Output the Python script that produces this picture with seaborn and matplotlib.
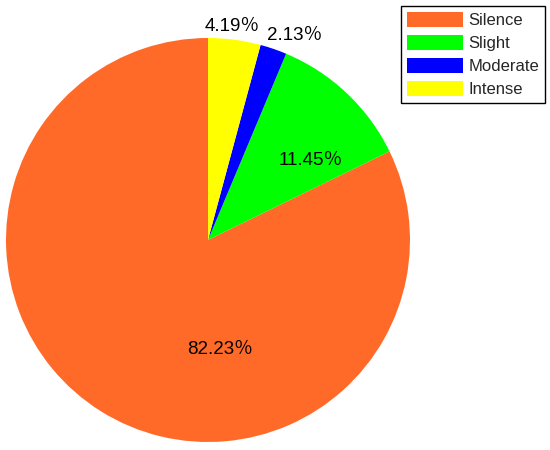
import numpy as np
import seaborn as sns
from matplotlib import pyplot as plt

# data
labels = ['Silence', 'Slight', 'Moderate', 'Intense']
shares = [82.23, 11.45, 2.13, 4.19]
pct_text = ['82.23％', '11.45％', '2.13％', '4.19％']
colors = sns.color_palette(['#FF6A29', '#00FF00', '#0000FF', '#FFFF00'])

sns.set_theme(style='white')
plt.rcParams['font.family'] = ['Liberation Sans', 'Noto Sans CJK SC', 'DejaVu Sans']

fig = plt.figure(figsize=(5.5, 4.5), dpi=100)
# pie centred at (208, 240) px with radius ~202 px
ax = fig.add_axes([6 / 550, 8 / 450, 404 / 550, 404 / 450])

wedges, texts = ax.pie(shares, colors=colors, startangle=90, counterclock=True,
                       radius=1, wedgeprops=dict(linewidth=0))
ax.set_xlim(-1, 1)
ax.set_ylim(-1, 1)
ax.set_aspect('equal')
ax.axis('off')

# label spots (same as reference, placed by hand)
spots = [(0.06, -0.54), (0.51, 0.395), (0.43, 1.01), (0.12, 1.055)]
for txt, (x, y) in zip(pct_text, spots):
    ax.text(x, y, txt, ha='center', va='center', fontsize=13.5, color='black',
            clip_on=False)

leg = fig.legend(wedges, labels, loc='upper right',
                 bbox_to_anchor=(545 / 550, 1 - 6 / 450), fontsize=12,
                 handlelength=3.4, handleheight=1.0, handletextpad=0.3,
                 labelspacing=0.42, borderpad=0.35, borderaxespad=0,
                 fancybox=False, framealpha=1, edgecolor='black')
leg.get_frame().set_linewidth(1.0)

plt.savefig('out.png', dpi=100)
